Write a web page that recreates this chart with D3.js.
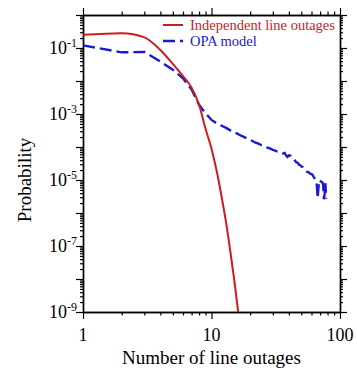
<!DOCTYPE html>
<html>
<head>
<meta charset="utf-8">
<style>
  body { margin: 0; background: #fff; }
  svg text { font-family: "Liberation Serif", "Times New Roman", serif; }
</style>
</head>
<body>
<script src="https://d3js.org/d3.v7.min.js"></script>
<script>
  // independent line outages (binomial-like)
  const indepN = [1, 2, 3, 4, 5, 6, 7, 8, 9, 10, 11, 12, 13, 14, 15, 16, 17];
  const indepP = [0.25, 0.28, 0.21, 0.087, 0.033, 0.014, 6.3e-3, 1.9e-3, 3.5e-4, 8.9e-5,
                  1.8e-5, 3.0e-6, 5.0e-7, 7.0e-8, 1.0e-8, 1.3e-9, 1.5e-10];

  // OPA model
  const opaN = [1, 2, 3, 4, 5, 6, 7, 8, 9, 10, 11, 12, 13, 14, 15, 16, 17, 18, 19, 20,
                21, 22, 23, 24, 25, 26, 27, 28, 29, 30, 31, 32, 33, 34, 35, 36, 37, 38, 39, 40,
                41, 42, 43, 44, 45, 46, 47, 48, 49, 50, 51, 52, 53, 54, 55, 56, 57, 58, 59, 60,
                61, 62, 63, 64, 65, 66, 67, 68, 69, 70, 71, 72, 73, 74, 75, 76, 77, 78];
  const opaP = [0.12, 7.4e-2, 7.6e-2, 3.9e-2, 2.2e-2, 1.2e-2, 5.5e-3, 1.9e-3, 1.05e-3, 6.6e-4,
                5.2e-4, 4.4e-4, 3.8e-4, 3.2e-4, 2.8e-4, 2.5e-4, 2.2e-4, 2.0e-4, 1.8e-4, 1.65e-4,
                1.5e-4, 1.35e-4, 1.28e-4, 1.18e-4, 1.12e-4, 1.05e-4, 9.8e-5, 9.3e-5, 8.8e-5, 8.2e-5,
                7.9e-5, 7.5e-5, 7.2e-5, 7.0e-5, 6.9e-5, 6.4e-5, 6.6e-5, 5.6e-5, 5.0e-5, 5.6e-5,
                5.5e-5, 4.9e-5, 4.7e-5, 4.2e-5, 3.7e-5, 3.4e-5, 3.3e-5, 2.9e-5, 2.8e-5, 2.6e-5,
                2.5e-5, 2.2e-5, 2.0e-5, 1.9e-5, 1.8e-5, 1.75e-5, 1.7e-5, 1.6e-5, 1.55e-5, 1.5e-5,
                1.45e-5, 1.3e-5, 1.15e-5, 1.1e-5, 9.0e-6, 7.0e-6, 2.8e-6, 6.0e-6, 1.0e-5, 9.5e-6,
                9.0e-6, 8.7e-6, 8.5e-6, 7.0e-6, 2.6e-6, 4.0e-6, 8.0e-6, 2.7e-6];

  const xLabels = [1, 10, 100];
  const yLabelExp = [-1, -3, -5, -7, -9];
  const seriesNames = ['Independent line outages', 'OPA model'];

  const W = 357, H = 370;
  const margin = { top: 15, right: 17, bottom: 58, left: 83 };
  const red = '#cc1c1c', blue = '#1a1ad2';

  const svg = d3.select('body').append('svg')
    .attr('width', W).attr('height', H);

  const x = d3.scaleLog().domain([1, 100]).range([margin.left, W - margin.right]);
  const y = d3.scaleLog().domain([1e-9, 1]).range([H - margin.bottom, margin.top]);

  const xMajor = [1, 10, 100];
  const xMinor = [];
  [1, 10].forEach(d => { for (let k = 2; k <= 9; k++) xMinor.push(d * k); });
  const yMajor = [], yMinor = [];
  for (let e = -9; e <= 0; e++) yMajor.push(Math.pow(10, e));
  for (let e = -9; e < 0; e++) for (let k = 2; k <= 9; k++) yMinor.push(k * Math.pow(10, e));

  const noLabel = () => '';
  function drawAxis(axisFn, scale, vals, size, tr) {
    const g = svg.append('g')
      .attr('transform', tr)
      .call(axisFn(scale).tickValues(vals).tickSize(size).tickSizeOuter(0).tickFormat(noLabel));
    g.select('.domain').attr('stroke', '#000').attr('stroke-width', 1.4);
    g.selectAll('.tick line').attr('stroke', '#000').attr('stroke-width', 1.2);
    return g;
  }

  const bottomY = H - margin.bottom, rightX = W - margin.right;
  drawAxis(d3.axisBottom, x, xMajor, 7, `translate(0,${bottomY})`);
  drawAxis(d3.axisBottom, x, xMinor, 3.5, `translate(0,${bottomY})`);
  drawAxis(d3.axisTop, x, xMajor, 7, `translate(0,${margin.top})`);
  drawAxis(d3.axisTop, x, xMinor, 3.5, `translate(0,${margin.top})`);
  drawAxis(d3.axisLeft, y, yMajor, 7, `translate(${margin.left},0)`);
  drawAxis(d3.axisLeft, y, yMinor, 3, `translate(${margin.left},0)`);
  drawAxis(d3.axisRight, y, yMajor, 7, `translate(${rightX},0)`);
  drawAxis(d3.axisRight, y, yMinor, 3, `translate(${rightX},0)`);

  // tick labels
  svg.append('g').selectAll('text')
    .data(xLabels)
    .join('text')
    .attr('x', d => x(d))
    .attr('y', bottomY + 29)
    .attr('text-anchor', 'middle')
    .attr('font-size', 18)
    .text(d => d);

  const yl = svg.append('g').selectAll('text')
    .data(yLabelExp)
    .join('text')
    .attr('x', margin.left - 6)
    .attr('y', d => y(Math.pow(10, d)) + 6)
    .attr('text-anchor', 'end')
    .attr('font-size', 18);
  yl.append('tspan').text('10');
  yl.append('tspan').attr('dy', -7).attr('font-size', 12).text(d => d === 0 ? '0' : '-' + Math.abs(d));

  // axis titles
  svg.append('text')
    .attr('x', (margin.left + rightX) / 2)
    .attr('y', H - 6)
    .attr('text-anchor', 'middle')
    .attr('font-size', 19)
    .text('Number of line outages');

  svg.append('text')
    .attr('transform', 'translate(31,180) rotate(-90)')
    .attr('text-anchor', 'middle')
    .attr('font-size', 19)
    .text('Probability');

  // curves
  svg.append('clipPath').attr('id', 'plot-clip')
    .append('rect')
    .attr('x', margin.left).attr('y', margin.top)
    .attr('width', rightX - margin.left).attr('height', bottomY - margin.top);

  const line = d3.line().x(d => x(d[0])).y(d => y(d[1]));
  const plot = svg.append('g').attr('clip-path', 'url(#plot-clip)');

  plot.append('path')
    .datum(opaN.map((n, i) => [n, opaP[i]]))
    .attr('fill', 'none')
    .attr('stroke', blue)
    .attr('stroke-width', 2.4)
    .attr('stroke-dasharray', '12,5')
    .attr('d', line);

  plot.append('path')
    .datum(indepN.map((n, i) => [n, indepP[i]]))
    .attr('fill', 'none')
    .attr('stroke', red)
    .attr('stroke-width', 2)
    .attr('d', line.curve(d3.curveMonotoneX));

  // legend
  const legend = svg.append('g').attr('transform', 'translate(163,25)');
  const items = legend.selectAll('g')
    .data(seriesNames)
    .join('g')
    .attr('transform', (d, i) => `translate(0,${i * 16})`);
  items.append('line')
    .attr('x1', 0).attr('x2', 20)
    .attr('stroke', (d, i) => i === 0 ? red : blue)
    .attr('stroke-width', (d, i) => i === 0 ? 2 : 2.4)
    .attr('stroke-dasharray', (d, i) => i === 0 ? null : '12,5');
  items.append('text')
    .attr('x', 27)
    .attr('y', 5)
    .attr('font-size', 14.5)
    .attr('fill', (d, i) => i === 0 ? red : blue)
    .text(d => d);
</script>
</body>
</html>
